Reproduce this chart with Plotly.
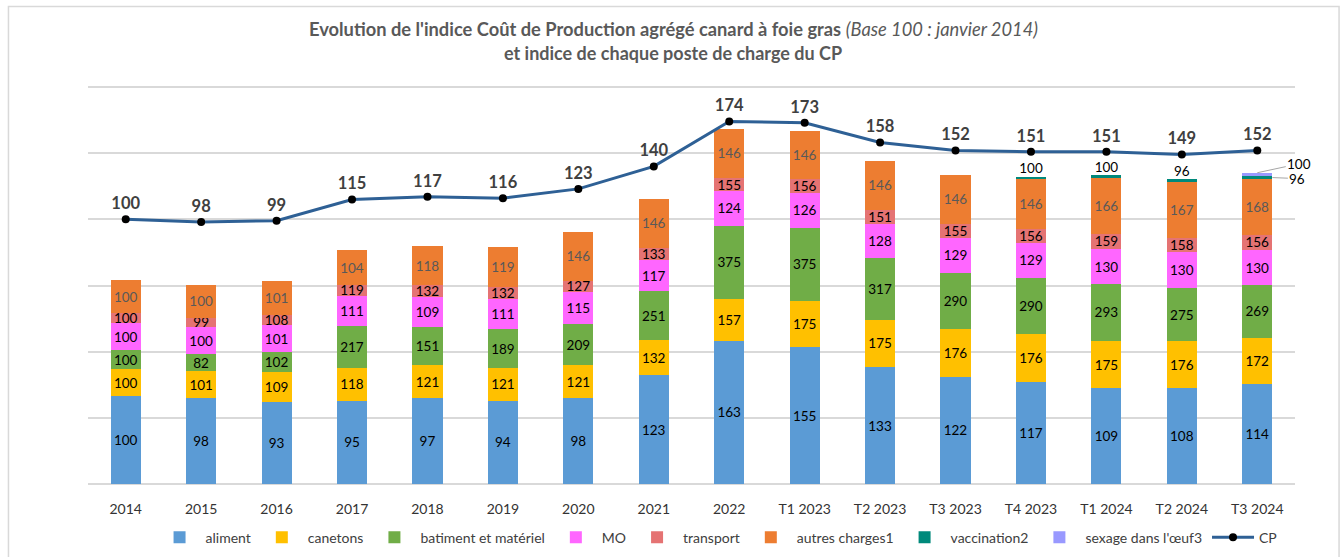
import plotly.graph_objects as go

categories = ["2014", "2015", "2016", "2017", "2018", "2019", "2020", "2021", "2022",
              "T1 2023", "T2 2023", "T3 2023", "T4 2023", "T1 2024", "T2 2024", "T3 2024"]

# Bar segment heights (weighted contribution)
h_aliment = [66.5, 65.0, 62.0, 63.0, 64.8, 63.0, 64.8, 82.0, 108.2, 103.2, 88.3, 80.9, 77.4, 72.3, 72.3, 75.9]
h_canetons = [20.2, 20.2, 22.5, 24.7, 24.8, 24.7, 25.2, 26.7, 31.6, 35.1, 35.8, 35.9, 35.6, 35.8, 35.4, 34.8]
h_batiment = [14.4, 12.7, 14.9, 31.8, 28.8, 29.1, 30.8, 36.9, 55.5, 55.5, 46.5, 42.7, 42.7, 43.0, 40.4, 39.4]
h_mo = [20.7, 20.7, 20.9, 22.7, 23.2, 23.2, 24.2, 23.9, 25.8, 26.1, 26.2, 26.5, 26.5, 26.5, 27.0, 27.0]
h_transport = [7.1, 7.0, 7.6, 8.1, 8.6, 9.1, 8.6, 9.1, 10.4, 10.6, 10.6, 10.6, 10.8, 11.4, 10.8, 10.9]
h_autres = [25.2, 24.8, 25.3, 26.3, 29.8, 29.8, 36.7, 37.1, 36.9, 36.4, 36.4, 36.9, 37.1, 41.9, 42.4, 42.4]
h_vaccination = [None] * 12 + [2.0, 2.3, 2.0, 2.3]
h_sexage = [None] * 15 + [2.5]

# Index labels shown on each segment
i_aliment = [100, 98, 93, 95, 97, 94, 98, 123, 163, 155, 133, 122, 117, 109, 108, 114]
i_canetons = [100, 101, 109, 118, 121, 121, 121, 132, 157, 175, 175, 176, 176, 175, 176, 172]
i_batiment = [100, 82, 102, 217, 151, 189, 209, 251, 375, 375, 317, 290, 290, 293, 275, 269]
i_mo = [100, 100, 101, 111, 109, 111, 115, 117, 124, 126, 128, 129, 129, 130, 130, 130]
i_transport = [100, 99, 108, 119, 132, 132, 127, 133, 155, 156, 151, 155, 156, 159, 158, 156]
i_autres = [100, 100, 101, 104, 118, 119, 146, 146, 146, 146, 146, 146, 146, 166, 167, 168]
i_vaccination = [None] * 12 + [100, 100, 96, 96]
i_sexage = [None] * 15 + [100]

cp = [100, 98, 99, 115, 117, 116, 123, 140, 174, 173, 158, 152, 151, 151, 149, 152]

FONT = "Lato"
series = [
    ("aliment", h_aliment, i_aliment, "#5B9BD5", "#000000"),
    ("canetons", h_canetons, i_canetons, "#FFC000", "#000000"),
    ("batiment et matériel", h_batiment, i_batiment, "#70AD47", "#000000"),
    ("MO", h_mo, i_mo, "#FF66FF", "#000000"),
    ("transport", h_transport, i_transport, "#E57373", "#000000"),
    ("autres charges1", h_autres, i_autres, "#ED7D31", "#595959"),
]

fig = go.Figure()
for name, h, idx, col, tcol in series:
    fig.add_trace(go.Bar(
        x=categories, y=h, name=name, marker=dict(color=col, line=dict(width=0)),
        text=[str(v) for v in idx], textposition="inside", insidetextanchor="middle",
        textangle=0, constraintext="none",
        textfont=dict(family=FONT, size=13.5, color=tcol), hoverinfo="skip",
    ))

fig.add_trace(go.Bar(x=categories, y=h_vaccination, name="vaccination2",
                     marker=dict(color="#00897B", line=dict(width=0)), hoverinfo="skip"))
fig.add_trace(go.Bar(x=categories, y=h_sexage, name="sexage dans l'œuf3",
                     marker=dict(color="#9999FF", line=dict(width=0)), hoverinfo="skip"))

# vaccination labels above bars (T4 2023 .. T2 2024)
stack_base = [sum(v for v in vals if v is not None) for vals in
              zip(h_aliment, h_canetons, h_batiment, h_mo, h_transport, h_autres)]
vx, vy, vt = [], [], []
for k in range(12, 15):
    vx.append(categories[k])
    vy.append(stack_base[k] + h_vaccination[k])
    vt.append(str(i_vaccination[k]))
fig.add_trace(go.Scatter(x=vx, y=vy, mode="text", text=vt, textposition="top center",
                         textfont=dict(family=FONT, size=13.5, color="#000000"),
                         showlegend=False, hoverinfo="skip"))

# CP line
fig.add_trace(go.Scatter(
    x=categories, y=cp, name="CP", mode="lines+markers+text", yaxis="y2",
    line=dict(color="#2E6095", width=3), marker=dict(color="#000000", size=8),
    text=[str(v) for v in cp], textposition="top center",
    textfont=dict(family=FONT, size=16.5, color="#404040", weight="bold"),
    hoverinfo="skip", cliponaxis=False,
))

# T3 2024 leader-line labels
k = 15
top_all = stack_base[k] + h_vaccination[k] + h_sexage[k]
vac_mid = stack_base[k] + h_vaccination[k] / 2
fig.add_annotation(x=k, y=top_all, xref="x", yref="y", text=str(i_sexage[k]),
                   showarrow=True, arrowhead=0, arrowwidth=1, arrowcolor="#A6A6A6",
                   ax=42, ay=-9, font=dict(family=FONT, size=13.5, color="#000000"))
fig.add_annotation(x=k + 0.2, y=vac_mid, xref="x", yref="y", text=str(i_vaccination[k]),
                   showarrow=True, arrowhead=0, arrowwidth=1, arrowcolor="#A6A6A6",
                   ax=25, ay=1, font=dict(family=FONT, size=13.5, color="#000000"))

# Title
fig.add_annotation(x=0.4847, y=1.1387, xref="paper", yref="paper", showarrow=False,
                   yanchor="middle",
                   text="<b>Evolution de l'indice Coût de Production agrégé canard à foie gras</b> <i>(Base 100 : janvier 2014)</i>",
                   font=dict(family=FONT, size=18.3, color="#595959"))
fig.add_annotation(x=0.4847, y=1.0788, xref="paper", yref="paper", showarrow=False,
                   yanchor="middle",
                   text="<b>et indice de chaque poste de charge du CP</b>",
                   font=dict(family=FONT, size=18, color="#595959"))

# Outer border
fig.add_shape(type="rect", xref="paper", yref="paper", x0=-0.0659, x1=1.0365,
              y0=-0.25, y1=1.1958, line=dict(color="#D9D9D9", width=1.5), layer="below")

fig.update_layout(
    width=1341, height=557,
    margin=dict(l=88, r=46, t=85, b=71, autoexpand=False),
    paper_bgcolor="white", plot_bgcolor="white",
    barmode="stack", bargap=0.6,
    showlegend=True,
    legend=dict(orientation="h", x=0.522, xanchor="center", y=-0.089, yanchor="top",
                font=dict(family=FONT, size=14, color="#404040"), traceorder="normal",
                itemwidth=42),
    xaxis=dict(showgrid=False, showline=False, ticks="outside", ticklen=10,
               tickcolor="rgba(0,0,0,0)", type="category", automargin=False,
               range=[-0.5, 15.5], autorange=False,
               tickfont=dict(family=FONT, size=14, color="#333333")),
    yaxis=dict(range=[-1.5, 301.5], tickvals=[0, 50, 100, 150, 200, 250, 300],
               showticklabels=False, showgrid=True,
               gridcolor="#D9D9D9", gridwidth=1.5, zeroline=False, fixedrange=True,
               automargin=False),
    yaxis2=dict(range=[-101.5, 201.5], overlaying="y", showgrid=False, showticklabels=False,
                zeroline=False, visible=False),
    font=dict(family=FONT),
)

fig.write_html("out.html", post_script="document.body.style.margin='0px';",
               config={"displayModeBar": False})
